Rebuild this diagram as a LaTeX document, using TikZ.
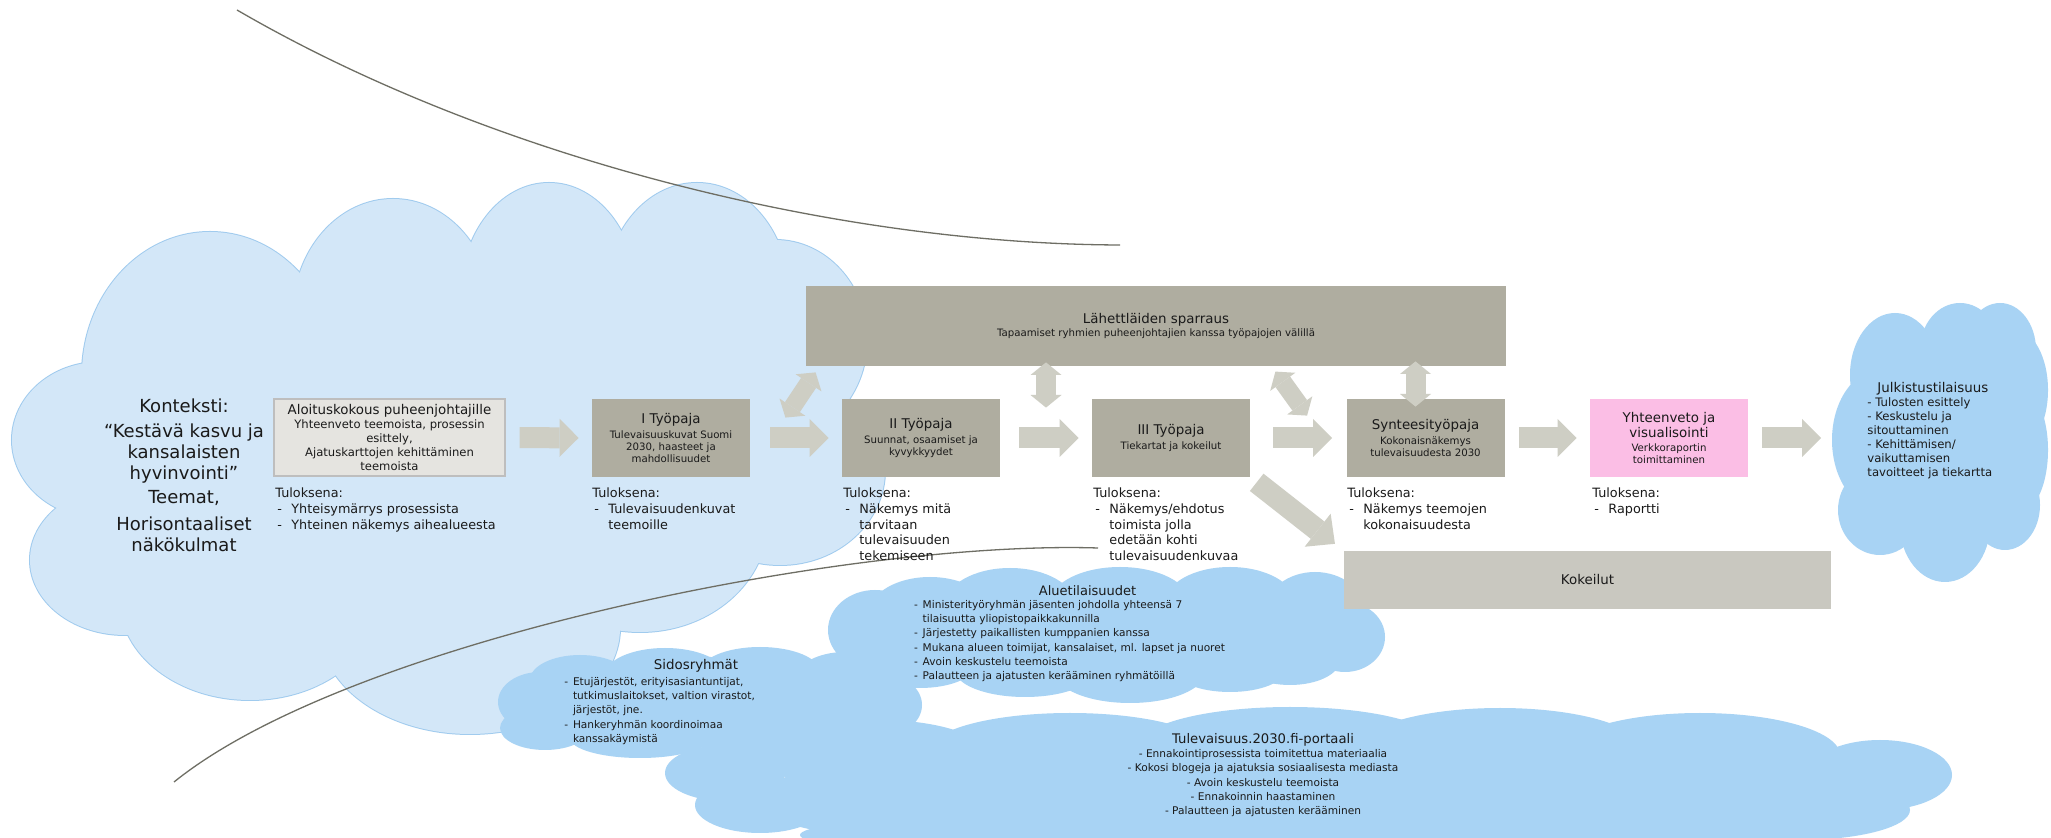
\documentclass[tikz,border=0pt]{standalone}
\usepackage{fontspec}
\setmainfont{DejaVu Sans}
\usetikzlibrary{arrows.meta,calc}

\definecolor{paleblue}{HTML}{D3E7F8}
\definecolor{paleedge}{HTML}{A0CBEE}
\definecolor{skyblue}{HTML}{A8D3F4}
\definecolor{taupe}{HTML}{AFADA0}
\definecolor{lighttaupe}{HTML}{C9C8C0}
\definecolor{arrowgrey}{HTML}{CECEC4}
\definecolor{startfill}{HTML}{E5E4E0}
\definecolor{startedge}{HTML}{BEBEBE}
\definecolor{pinkfill}{HTML}{FBBEE5}
\definecolor{curvegrey}{HTML}{6E6E64}
\definecolor{ink}{HTML}{1A1A1A}

% font sizes
\newcommand{\titlef}{\fontsize{6.7}{7.9}\selectfont}
\newcommand{\subf}{\fontsize{5.1}{6}\selectfont}
\newcommand{\resf}{\fontsize{6.4}{7.85}\selectfont}
\newcommand{\listf}{\fontsize{5.3}{7.1}\selectfont}
\newcommand{\bigf}{\fontsize{9}{10.5}\selectfont}
% hanging dashes for result lists
\newcommand{\rdash}{\makebox[8pt][l]{\hspace{1pt}-}}
\newcommand{\rgap}{\hspace*{8pt}}
\newcommand{\ldash}{\makebox[4.3pt][l]{-}}
\newcommand{\lgap}{\hspace*{4.3pt}}

% cloud lobes: centre x / centre y / x radius / y radius
\newcommand{\palelobes}{100/440/88/78, 125/560/95/75, 250/600/130/100, 470/628/150/106,
  640/520/128/112, 780/470/105/95, 775/340/92/100, 697/295/92/112, 549/295/88/112,
  393/315/100/116, 210/375/128/143, 430/450/300/190}
\newcommand{\julklobes}{1940/445/85/110, 1880/440/48/70, 1895/375/45/62, 1960/350/40/47,
  2000/350/36/47, 2015/390/33/60, 2022/450/26/60, 2005/505/35/45, 1945/525/45/57, 1880/510/42/45}
\newcommand{\aluelobes}{1105/632/235/50, 875/630/47/40, 930/612/60/35, 1010/605/65/37,
  1120/603/70/36, 1230/603/65/36, 1315/612/50/40, 1345/637/40/35, 1290/660/50/25,
  1230/670/55/22, 1130/672/75/31, 1025/670/70/27, 920/665/55/23}
\newcommand{\sidoslobes}{710/702/200/45, 540/702/42/30, 580/680/50/25, 665/675/60/27,
  760/672/60/25, 845/680/50/28, 885/705/37/30, 860/730/50/22, 760/735/70/22,
  640/738/70/20, 545/728/45/22}
\newcommand{\portallobes}{1310/800/560/65, 725/773/60/28, 760/805/65/28, 880/758/110/38,
  1070/750/140/37, 1290/745/150/38, 1500/748/140/40, 1700/755/140/42, 1880/775/72/35,
  1800/810/110/30, 1300/835/500/30}

\tikzset{
  phase/.style={fill=taupe, minimum width=79pt, minimum height=39pt, inner sep=0pt,
    align=center, font=\subf},
  result/.style={anchor=north west, inner sep=0pt, align=left, font=\resf},
  blockarr/.style={draw=arrowgrey, line width=10.5pt,
    -{Triangle[length=9.5pt,width=19pt,line width=0pt]}},
  twoway/.style={draw=arrowgrey, line width=10pt,
    {Triangle[length=6.3pt,width=15.5pt,line width=0pt]}-{Triangle[length=6.3pt,width=15.5pt,line width=0pt]}},
  curve/.style={draw=curvegrey, line width=0.65pt},
}

\begin{document}
\begin{tikzpicture}[x=0.5pt,y=-0.5pt, every node/.style={text=ink}]
\useasboundingbox (0,0) rectangle (2051,838);
\clip (0,0) rectangle (2051,838);
\fill[white] (0,0) rectangle (2051,838);

% context cloud: outline of every lobe, then the fill over it
\foreach \cx/\cy/\rx/\ry in \palelobes {
  \draw[paleedge, line width=1pt] (\cx,\cy) ellipse [x radius=\rx, y radius=\ry];
}
\foreach \cx/\cy/\rx/\ry in \palelobes {
  \fill[paleblue] (\cx,\cy) ellipse [x radius=\rx, y radius=\ry];
}

% the two sweeping curves
\coordinate (arcAstart) at (237,10);
\coordinate (arcAend) at (1120,245);
\draw[curve] (arcAstart) .. controls (495,160) and (840,244) .. (arcAend);
\coordinate (arcBstart) at (174,782);
\coordinate (arcBend) at (1098,548);
\draw[curve] (arcBstart) .. controls (350,640) and (850,540) .. (arcBend);

% event clouds
\foreach \cx/\cy/\rx/\ry in \sidoslobes {
  \fill[skyblue] (\cx,\cy) ellipse [x radius=\rx, y radius=\ry];
}
\foreach \cx/\cy/\rx/\ry in \aluelobes {
  \fill[skyblue] (\cx,\cy) ellipse [x radius=\rx, y radius=\ry];
}
\foreach \cx/\cy/\rx/\ry in \portallobes {
  \fill[skyblue] (\cx,\cy) ellipse [x radius=\rx, y radius=\ry];
}
\foreach \cx/\cy/\rx/\ry in \julklobes {
  \fill[skyblue] (\cx,\cy) ellipse [x radius=\rx, y radius=\ry];
}

% context text
\node[font=\bigf, align=center, inner sep=0pt] (ctx) at (184,475)
  {Konteksti:\\[2.1pt]“Kestävä kasvu ja\\kansalaisten\\hyvinvointi”\\[1.7pt]Teemat,\\[2.7pt]Horisontaaliset\\näkökulmat};

% process boxes
\node[fill=startfill, draw=startedge, line width=0.6pt, minimum width=115.5pt,
  minimum height=38.5pt, inner sep=0pt, align=center,
  font=\fontsize{5.8}{7}\selectfont] (aloitus) at (389.5,437.5)
  {\titlef Aloituskokous puheenjohtajille\\[0.4pt]Yhteenveto teemoista, prosessin\\esittely,\\Ajatuskarttojen kehittäminen\\teemoista};
\node[phase] (w1) at (671,438)
  {\titlef I Työpaja\\[1.2pt]Tulevaisuuskuvat Suomi\\2030, haasteet ja\\mahdollisuudet};
\node[phase] (w2) at (921,438)
  {\titlef II Työpaja\\[1.2pt]Suunnat, osaamiset ja\\kyvykkyydet};
\node[phase] (w3) at (1171,438)
  {\titlef III Työpaja\\[1.2pt]Tiekartat ja kokeilut};
\node[phase] (syn) at (1425.5,438)
  {\titlef Synteesityöpaja\\[1.2pt]Kokonaisnäkemys\\tulevaisuudesta 2030};
\node[phase, fill=pinkfill] (yht) at (1669,438)
  {\titlef Yhteenveto ja\\\titlef visualisointi\\[0.6pt]Verkkoraportin\\toimittaminen};
\node[fill=taupe, minimum width=350pt, minimum height=40pt, inner sep=0pt,
  align=center, font=\subf] (sparraus) at (1156,326)
  {\titlef Lähettläiden sparraus\\[0.7pt]Tapaamiset ryhmien puheenjohtajien kanssa työpajojen välillä};
\node[fill=lighttaupe, minimum width=243.5pt, minimum height=29pt, inner sep=0pt,
  font=\titlef] (kokeilut) at (1587.5,580) {Kokeilut};

% flow arrows
\coordinate (julkin) at (1821,438);
\draw[blockarr, shorten <=7pt, shorten >=6.5pt] (aloitus.east) -- (w1.west);
\draw[blockarr, shorten <=10pt, shorten >=6.5pt] (w1) -- (w2);
\draw[blockarr, shorten <=9.5pt, shorten >=6.5pt] (w2) -- (w3);
\draw[blockarr, shorten <=11.5pt, shorten >=7pt] (w3) -- (syn);
\draw[blockarr, shorten <=7pt, shorten >=6.5pt] (syn) -- (yht);
\draw[blockarr, shorten <=7pt] (yht.east) -- (julkin);
\draw[draw=arrowgrey, line width=11pt,
  -{Triangle[length=11pt,width=21pt,line width=0pt]}, shorten <=4pt, shorten >=5.5pt]
  (w3.south east) -- (kokeilut.north west);

% two-way links to the sparring row
\coordinate (gap23) at ($(w2.north east)!0.5!(w3.north west)+(0,9)$);
\draw[twoway, shorten >=-2pt] (gap23) -- (gap23 |- sparraus.south);
\coordinate (synup) at ($(syn.north)+(-10,8)$);
\draw[twoway, shorten >=-2.5pt] (synup) -- (synup |- sparraus.south);
\coordinate (gap12) at ($(w1.north east)+(35,19)$);
\coordinate (spSW) at ($(sparraus.south west)+(10,6)$);
\draw[twoway, line width=9pt] (gap12) -- (spSW);
\coordinate (gap3s) at ($(syn.north west)+(-39,17)$);
\coordinate (spSE) at ($(w3.north east)+(25,-27)$);
\draw[twoway, line width=9pt] (gap3s) -- (spSE);

% results under each step
\node[result] (r0) at (275,487.5)
  {Tuloksena:\\\rdash Yhteisymärrys prosessista\\\rdash Yhteinen näkemys aihealueesta};
\node[result] (r1) at (592,487.5)
  {Tuloksena:\\\rdash Tulevaisuudenkuvat\\\rgap teemoille};
\node[result] (r2) at (843,487.5)
  {Tuloksena:\\\rdash Näkemys mitä\\\rgap tarvitaan\\\rgap tulevaisuuden\\\rgap tekemiseen};
\node[result] (r3) at (1093,487.5)
  {Tuloksena:\\\rdash Näkemys/ehdotus\\\rgap toimista jolla\\\rgap edetään kohti\\\rgap tulevaisuudenkuvaa};
\node[result] (r4) at (1347,487.5)
  {Tuloksena:\\\rdash Näkemys teemojen\\\rgap kokonaisuudesta};
\node[result] (r5) at (1592,487.5)
  {Tuloksena:\\\rdash Raportti};

% cloud texts
\node[anchor=north west, inner sep=0pt, align=left,
  font=\fontsize{5.84}{7}\selectfont] (julk) at (1867,381.5)
  {\hspace*{5pt}{\fontsize{6.7}{7}\selectfont Julkistustilaisuus}\\- Tulosten esittely\\- Keskustelu ja\\sitouttaminen\\- Kehittämisen/\\vaikuttamisen\\tavoitteet ja tiekartta};

\node[font=\fontsize{6.5}{7}\selectfont, inner sep=0pt] (alueTitle) at (1087.6,590.7) {Aluetilaisuudet};
\node[anchor=north west, inner sep=0pt, align=left, font=\listf] (alueList) at (913.7,600)
  {\ldash Ministerityöryhmän jäsenten johdolla yhteensä 7\\
   \lgap tilaisuutta yliopistopaikkakunnilla\\
   \ldash Järjestetty paikallisten kumppanien kanssa\\
   \ldash Mukana alueen toimijat, kansalaiset, ml. lapset ja nuoret\\
   \ldash Avoin keskustelu teemoista\\
   \ldash Palautteen ja ajatusten kerääminen ryhmätöillä};

\node[font=\fontsize{6.7}{7}\selectfont, inner sep=0pt] (sidosTitle) at (696,666) {Sidosryhmät};
\node[anchor=north west, inner sep=0pt, align=left, font=\listf] (sidosList) at (564,677)
  {\ldash Etujärjestöt, erityisasiantuntijat,\\
   \lgap tutkimuslaitokset, valtion virastot,\\
   \lgap järjestöt, jne.\\
   \ldash Hankeryhmän koordinoimaa\\
   \lgap kanssakäymistä};

\node[align=center, inner sep=0pt, font=\listf] (portal) at (1263,775)
  {{\fontsize{6.6}{7.1}\selectfont Tulevaisuus.2030.fi-portaali}\\
   - Ennakointiprosessista toimitettua materiaalia\\
   - Kokosi blogeja ja ajatuksia sosiaalisesta mediasta\\
   - Avoin keskustelu teemoista\\
   - Ennakoinnin haastaminen\\
   - Palautteen ja ajatusten kerääminen};
\end{tikzpicture}
\end{document}
